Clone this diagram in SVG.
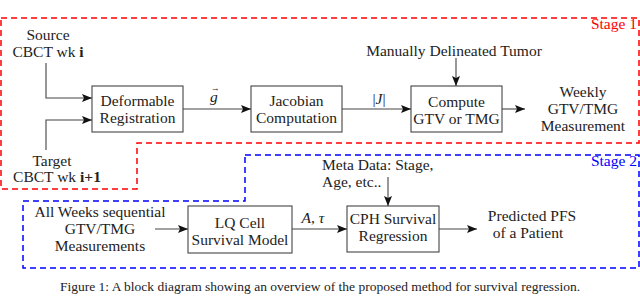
<svg xmlns="http://www.w3.org/2000/svg" width="640" height="297" viewBox="0 0 640 297">
<style>
text{font-family:"Liberation Serif","DejaVu Serif",serif;font-size:15.5px;fill:#222;}
.c{text-anchor:middle;}
.box{fill:#fff;stroke:#444;stroke-width:1.1;}
.ln{fill:none;stroke:#444;stroke-width:1.1;}
.red{fill:none;stroke:#f00;stroke-width:1.5;stroke-dasharray:6,4;}
.blue{fill:none;stroke:#00f;stroke-width:1.5;stroke-dasharray:6,4;}
</style>
<defs>
<marker id="ah" viewBox="0 0 10 8" refX="10" refY="4" markerWidth="10" markerHeight="8" markerUnits="userSpaceOnUse" orient="auto">
<path d="M0,0 L10,4 L0,8 L2,4 Z" fill="#111"/>
</marker>
</defs>
<rect width="640" height="297" fill="#fff"/>
<g id="stage1">
<path class="red" d="M1,18 H639 V143 H137 V189 H1 Z"/>
<text x="637" y="29" style="fill:#f00;text-anchor:end">Stage 1</text>
</g>
<g id="stage2">
<path class="blue" d="M245,155 H639 V268 H23 V201 H245 Z"/>
<text x="637" y="166" style="fill:#00f;text-anchor:end">Stage 2</text>
</g>
<g id="connectors">
<path class="ln" d="M46,63 V98 H92" marker-end="url(#ah)"/>
<path class="ln" d="M46,150 V120 H92" marker-end="url(#ah)"/>
<path class="ln" d="M183,109 H251" marker-end="url(#ah)"/>
<path class="ln" d="M342,109 H411" marker-end="url(#ah)"/>
<path class="ln" d="M456,58 V86" marker-end="url(#ah)"/>
<path class="ln" d="M502,109 H525" marker-end="url(#ah)"/>
<path class="ln" d="M155,229 H188" marker-end="url(#ah)"/>
<path class="ln" d="M292,229 H347" marker-end="url(#ah)"/>
<path class="ln" d="M388,177 V206" marker-end="url(#ah)"/>
<path class="ln" d="M439,229 H477" marker-end="url(#ah)"/>
<text x="210" y="102" style="font-style:italic">g<tspan dx="-7" dy="-11" style="font-style:normal;font-size:9px">→</tspan></text>
<text x="379" y="104" class="c"><tspan>|</tspan><tspan style="font-style:italic">J</tspan><tspan>|</tspan></text>
<text x="313" y="223" class="c" style="font-style:italic">A<tspan style="font-style:normal">, </tspan>τ</text>
</g>
<g id="source">
<text x="48" y="40" class="c">Source</text>
<text x="48" y="57" class="c">CBCT wk <tspan font-weight="bold">i</tspan></text>
</g>
<g id="target">
<text x="52" y="166" class="c">Target</text>
<text x="57" y="182" class="c">CBCT wk <tspan font-weight="bold">i+1</tspan></text>
</g>
<g id="deformable">
<rect class="box" x="92" y="86" width="91" height="46"/>
<text x="137.5" y="106" class="c">Deformable</text>
<text x="137.5" y="123" class="c">Registration</text>
</g>
<g id="jacobian">
<rect class="box" x="251" y="86" width="91" height="46"/>
<text x="296.5" y="106" class="c">Jacobian</text>
<text x="296.5" y="123" class="c">Computation</text>
</g>
<g id="tumor">
<text x="454" y="56" class="c">Manually Delineated Tumor</text>
</g>
<g id="compute">
<rect class="box" x="411" y="86" width="91" height="46"/>
<text x="456.5" y="107" class="c">Compute</text>
<text x="456.5" y="124" class="c">GTV or TMG</text>
</g>
<g id="weekly">
<text x="583" y="97" class="c">Weekly</text>
<text x="583" y="114" class="c">GTV/TMG</text>
<text x="583" y="131" class="c">Measurement</text>
</g>
<g id="allweeks">
<text x="100" y="217" class="c">All Weeks sequential</text>
<text x="100" y="234" class="c">GTV/TMG</text>
<text x="100" y="251" class="c">Measurements</text>
</g>
<g id="lq">
<rect class="box" x="188" y="206" width="104" height="47"/>
<text x="240" y="228" class="c">LQ Cell</text>
<text x="240" y="245" class="c">Survival Model</text>
</g>
<g id="meta">
<text x="322" y="170">Meta Data: Stage,</text>
<text x="322" y="187">Age, etc..</text>
</g>
<g id="cph">
<rect class="box" x="347" y="206" width="92" height="46"/>
<text x="393" y="224" class="c">CPH Survival</text>
<text x="393" y="241" class="c">Regression</text>
</g>
<g id="pfs">
<text x="532" y="221" class="c">Predicted PFS</text>
<text x="528" y="238" class="c">of a Patient</text>
</g>
<text x="320" y="291" class="c" style="font-size:13.5px">Figure 1: A block diagram showing an overview of the proposed method for survival regression.</text>
</svg>
